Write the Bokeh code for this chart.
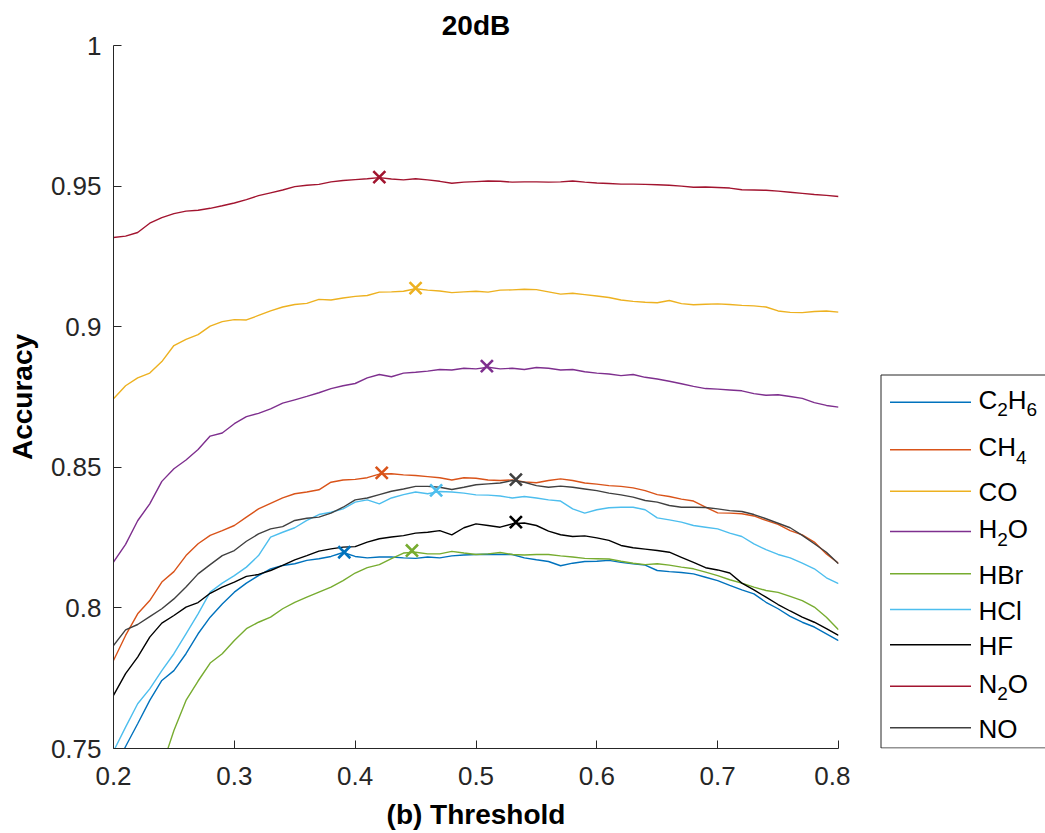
import numpy as np
from bokeh.plotting import figure
from bokeh.models import Range1d, FixedTicker, CustomJSTickFormatter
from bokeh.layouts import row
from bokeh.embed import file_html
from bokeh.resources import INLINE
from bokeh.core.properties import value

FONT = "Liberation Sans"
AXIS_COLOR = "#262626"

# Detection threshold grid
threshold = np.round(np.linspace(0.20, 0.80, 61), 2)
nan = float("nan")

# Accuracy versus threshold, one list per gas
acc_c2h6 = [0.7425, 0.7507, 0.7588, 0.7671, 0.7742, 0.7777, 0.7837, 0.7908, 0.7967, 0.8014,
            0.8056, 0.8088, 0.8115, 0.8139, 0.8151, 0.8157, 0.8169, 0.8175, 0.8183, 0.8197,
            0.8183, 0.8178, 0.8181, 0.8181, 0.8178, 0.8176, 0.8181, 0.8178, 0.8185, 0.8188,
            0.8190, 0.8191, 0.8190, 0.8190, 0.8178, 0.8171, 0.8165, 0.8150, 0.8159, 0.8165,
            0.8166, 0.8169, 0.8162, 0.8157, 0.8152, 0.8133, 0.8129, 0.8126, 0.8121, 0.8109,
            0.8097, 0.8080, 0.8064, 0.8050, 0.8020, 0.7997, 0.7970, 0.7949, 0.7932, 0.7908,
            0.7884]
acc_ch4 = [0.7813, 0.7902, 0.7979, 0.8026, 0.8092, 0.8129, 0.8186, 0.8228, 0.8258, 0.8275,
           0.8293, 0.8323, 0.8352, 0.8372, 0.8391, 0.8406, 0.8412, 0.8420, 0.8447, 0.8455,
           0.8457, 0.8463, 0.8476, 0.8477, 0.8473, 0.8471, 0.8467, 0.8463, 0.8455, 0.8463,
           0.8461, 0.8455, 0.8453, 0.8455, 0.8448, 0.8445, 0.8453, 0.8459, 0.8453, 0.8444,
           0.8440, 0.8435, 0.8432, 0.8427, 0.8417, 0.8403, 0.8396, 0.8387, 0.8380, 0.8358,
           0.8338, 0.8337, 0.8335, 0.8327, 0.8311, 0.8297, 0.8275, 0.8260, 0.8234, 0.8192,
           0.8159]
acc_co = [0.8744, 0.8790, 0.8818, 0.8835, 0.8876, 0.8933, 0.8955, 0.8972, 0.9002, 0.9018,
          0.9025, 0.9024, 0.9040, 0.9056, 0.9070, 0.9079, 0.9083, 0.9097, 0.9095, 0.9102,
          0.9108, 0.9111, 0.9123, 0.9124, 0.9126, 0.9135, 0.9130, 0.9127, 0.9121, 0.9124,
          0.9126, 0.9123, 0.9130, 0.9131, 0.9133, 0.9132, 0.9124, 0.9116, 0.9119, 0.9114,
          0.9109, 0.9104, 0.9095, 0.9090, 0.9087, 0.9085, 0.9093, 0.9082, 0.9078, 0.9080,
          0.9081, 0.9079, 0.9076, 0.9074, 0.9070, 0.9056, 0.9051, 0.9050, 0.9054, 0.9056,
          0.9052]
acc_h2o = [0.8163, 0.8226, 0.8310, 0.8370, 0.8450, 0.8495, 0.8526, 0.8563, 0.8611, 0.8622,
           0.8655, 0.8680, 0.8692, 0.8708, 0.8728, 0.8740, 0.8752, 0.8765, 0.8780, 0.8790,
           0.8798, 0.8818, 0.8830, 0.8822, 0.8835, 0.8838, 0.8842, 0.8848, 0.8846, 0.8852,
           0.8850, 0.8856, 0.8850, 0.8852, 0.8848, 0.8855, 0.8852, 0.8846, 0.8848, 0.8840,
           0.8835, 0.8832, 0.8826, 0.8830, 0.8820, 0.8814, 0.8806, 0.8797, 0.8788, 0.8780,
           0.8778, 0.8775, 0.8772, 0.8762, 0.8756, 0.8758, 0.8752, 0.8745, 0.8730, 0.8720,
           0.8714]
acc_hbr = [nan, nan, nan, nan, 0.7435, 0.7564, 0.7671, 0.7740, 0.7804, 0.7837,
           0.7884, 0.7926, 0.7949, 0.7967, 0.7997, 0.8020, 0.8038, 0.8056, 0.8074, 0.8097,
           0.8124, 0.8143, 0.8154, 0.8175, 0.8195, 0.8198, 0.8192, 0.8192, 0.8201, 0.8195,
           0.8190, 0.8192, 0.8197, 0.8190, 0.8188, 0.8190, 0.8190, 0.8185, 0.8181, 0.8176,
           0.8175, 0.8174, 0.8166, 0.8159, 0.8154, 0.8157, 0.8152, 0.8145, 0.8139, 0.8127,
           0.8115, 0.8100, 0.8088, 0.8074, 0.8062, 0.8055, 0.8041, 0.8026, 0.8003, 0.7967,
           0.7922]
acc_hcl = [0.7490, 0.7576, 0.7659, 0.7712, 0.7777, 0.7837, 0.7908, 0.7979, 0.8056, 0.8088,
           0.8115, 0.8145, 0.8186, 0.8252, 0.8269, 0.8285, 0.8311, 0.8332, 0.8340, 0.8352,
           0.8376, 0.8384, 0.8370, 0.8391, 0.8403, 0.8412, 0.8406, 0.8414, 0.8412, 0.8408,
           0.8402, 0.8401, 0.8398, 0.8391, 0.8396, 0.8391, 0.8384, 0.8380, 0.8352, 0.8337,
           0.8349, 0.8356, 0.8358, 0.8358, 0.8349, 0.8320, 0.8313, 0.8305, 0.8293, 0.8287,
           0.8281, 0.8266, 0.8254, 0.8228, 0.8207, 0.8190, 0.8178, 0.8159, 0.8139, 0.8107,
           0.8086]
acc_hf = [0.7689, 0.7766, 0.7825, 0.7896, 0.7946, 0.7973, 0.8003, 0.8019, 0.8052, 0.8074,
          0.8092, 0.8112, 0.8119, 0.8133, 0.8151, 0.8171, 0.8186, 0.8202, 0.8210, 0.8216,
          0.8218, 0.8234, 0.8246, 0.8252, 0.8257, 0.8266, 0.8269, 0.8275, 0.8260, 0.8285,
          0.8299, 0.8293, 0.8287, 0.8299, 0.8302, 0.8293, 0.8273, 0.8260, 0.8254, 0.8256,
          0.8249, 0.8240, 0.8222, 0.8214, 0.8209, 0.8204, 0.8198, 0.8180, 0.8162, 0.8143,
          0.8135, 0.8124, 0.8088, 0.8064, 0.8038, 0.8012, 0.7989, 0.7967, 0.7949, 0.7926,
          0.7902]
acc_n2o = [0.9317, 0.9322, 0.9335, 0.9368, 0.9388, 0.9402, 0.9411, 0.9414, 0.9421, 0.9430,
           0.9440, 0.9452, 0.9466, 0.9476, 0.9486, 0.9498, 0.9503, 0.9506, 0.9515, 0.9520,
           0.9523, 0.9526, 0.9530, 0.9525, 0.9522, 0.9526, 0.9522, 0.9517, 0.9510, 0.9514,
           0.9516, 0.9518, 0.9517, 0.9514, 0.9515, 0.9515, 0.9514, 0.9515, 0.9518, 0.9514,
           0.9511, 0.9509, 0.9507, 0.9507, 0.9506, 0.9505, 0.9503, 0.9500, 0.9496, 0.9497,
           0.9495, 0.9493, 0.9487, 0.9486, 0.9485, 0.9482, 0.9478, 0.9474, 0.9470, 0.9467,
           0.9463]
acc_no = [0.7866, 0.7922, 0.7941, 0.7969, 0.7997, 0.8032, 0.8074, 0.8121, 0.8154, 0.8186,
          0.8204, 0.8237, 0.8263, 0.8281, 0.8289, 0.8311, 0.8319, 0.8323, 0.8337, 0.8358,
          0.8384, 0.8391, 0.8403, 0.8415, 0.8423, 0.8432, 0.8432, 0.8429, 0.8421, 0.8429,
          0.8438, 0.8441, 0.8444, 0.8453, 0.8447, 0.8435, 0.8429, 0.8433, 0.8429, 0.8423,
          0.8417, 0.8408, 0.8402, 0.8394, 0.8382, 0.8376, 0.8364, 0.8358, 0.8358, 0.8357,
          0.8352, 0.8346, 0.8343, 0.8332, 0.8317, 0.8301, 0.8285, 0.8258, 0.8228, 0.8198,
          0.8157]

# Best threshold (highest accuracy) for each gas
peak_x = [0.391, 0.422, 0.450, 0.509, 0.447, 0.467, 0.533, 0.420, 0.533]
peak_y = [0.8198, 0.8480, 0.9137, 0.8860, 0.8204, 0.8418, 0.8305, 0.9532, 0.8456]

# Legend labels, "_" marks a subscript digit
gas_labels = ["C_2H_6", "CH_4", "CO", "H_2O", "HBr", "HCl", "HF", "N_2O", "NO"]
gas_colors = ["#0072BD", "#D95319", "#EDB120", "#7E2F8E", "#77AC30",
              "#4DBEEE", "#000000", "#A2142F", "#404040"]
series = [acc_c2h6, acc_ch4, acc_co, acc_h2o, acc_hbr, acc_hcl, acc_hf, acc_n2o, acc_no]

x_ticks = [0.2, 0.3, 0.4, 0.5, 0.6, 0.7, 0.8]
y_ticks = [0.75, 0.8, 0.85, 0.9, 0.95, 1.0]

BORDER_TOP, BORDER_BOTTOM = 45, 85
HEIGHT = 833
FRAME_TOP, FRAME_BOTTOM = BORDER_TOP, HEIGHT - BORDER_BOTTOM

p = figure(width=850, height=HEIGHT, output_backend="svg", toolbar_location=None,
           x_range=Range1d(0.2, 0.8), y_range=Range1d(0.75, 1.0),
           min_border_left=113, min_border_right=12,
           min_border_top=BORDER_TOP, min_border_bottom=BORDER_BOTTOM,
           title="20dB")
p.outline_line_color = None
p.grid.visible = False
p.background_fill_color = "white"
p.border_fill_color = "white"

p.title.align = "center"
p.title.text_font = FONT
p.title.text_font_size = "28px"
p.title.text_font_style = "bold"
p.title.text_color = "#000000"
p.title.standoff = 9

fmt = CustomJSTickFormatter(code="return String(Math.round(tick * 100) / 100);")
for ax, ticks in ((p.xaxis[0], x_ticks), (p.yaxis[0], y_ticks)):
    ax.ticker = FixedTicker(ticks=ticks)
    ax.formatter = fmt
    ax.axis_line_color = AXIS_COLOR
    ax.major_tick_line_color = AXIS_COLOR
    ax.major_tick_in = 8
    ax.major_tick_out = 0
    ax.minor_tick_line_color = None
    ax.major_label_text_font = FONT
    ax.major_label_text_font_size = "26px"
    ax.major_label_text_color = AXIS_COLOR
    ax.axis_label_text_font = FONT
    ax.axis_label_text_font_size = "28px"
    ax.axis_label_text_font_style = "bold"
    ax.axis_label_text_color = "#000000"

p.xaxis.axis_label = "(b) Threshold"
p.yaxis.axis_label = "Accuracy"
p.xaxis.major_label_standoff = 18
p.yaxis.major_label_standoff = 12
p.xaxis.axis_label_standoff = 11
p.yaxis.axis_label_standoff = 10

for acc, color in zip(series, gas_colors):
    p.line(threshold, acc, line_color=color, line_width=1.4)
for px_, py_, color in zip(peak_x, peak_y, gas_colors):
    p.scatter([px_], [py_], marker="x", size=17, line_color=color, line_width=2.6)

# Legend panel: a canvas whose data units are page pixels; its frame lines
# up with the main frame (same top/bottom borders) inside the row layout.
leg = figure(width=195, height=HEIGHT, output_backend="svg", toolbar_location=None,
             x_range=Range1d(850, 1045), y_range=Range1d(FRAME_BOTTOM, FRAME_TOP),
             x_axis_location=None, y_axis_location=None,
             min_border_left=0, min_border_right=0,
             min_border_top=BORDER_TOP, min_border_bottom=BORDER_BOTTOM)
leg.outline_line_color = None
leg.grid.visible = False
leg.background_fill_color = "white"
leg.border_fill_color = "white"

leg.quad(left=[880.5], right=[1060], top=[374.5], bottom=[747.5],
         fill_color="white", line_color=AXIS_COLOR, line_width=1)

row_y = [401.7, 449.3, 490.7, 531.0, 573.3, 609.0, 644.3, 685.7, 727.3]
leg.segment(x0=[889.5] * 9, x1=[970.5] * 9, y0=row_y, y1=row_y,
            line_color=gas_colors, line_width=1.6)

MAIN_SIZE, SUB_SIZE = 26, 19
advance = {"C": 0.722, "H": 0.722, "O": 0.778, "N": 0.722, "B": 0.667,
           "r": 0.333, "l": 0.222, "F": 0.611}
main_x, main_y, main_t, sub_x, sub_y, sub_t = [], [], [], [], [], []
for label, yc in zip(gas_labels, row_y):
    has_sub = "_" in label
    base = yc + (-2.5 if has_sub else 1.0)
    x = 978.0
    i = 0
    while i < len(label):
        if label[i] == "_":
            ch = label[i + 1]
            sub_x.append(x)
            sub_y.append(base + 10.0)
            sub_t.append(ch)
            x += 0.556 * SUB_SIZE
            i += 2
        else:
            ch = label[i]
            main_x.append(x)
            main_y.append(base)
            main_t.append(ch)
            x += advance.get(ch, 0.6) * MAIN_SIZE
            i += 1

leg.text(main_x, main_y, text=main_t, text_font=value(FONT),
         text_font_size=value(f"{MAIN_SIZE}px"), text_color="#000000",
         text_baseline="alphabetic", text_align="left")
leg.text(sub_x, sub_y, text=sub_t, text_font=value(FONT),
         text_font_size=value(f"{SUB_SIZE}px"), text_color="#000000",
         text_baseline="alphabetic", text_align="left")

layout = row(p, leg, spacing=0)
open("out.html", "w").write(file_html(layout, INLINE))
